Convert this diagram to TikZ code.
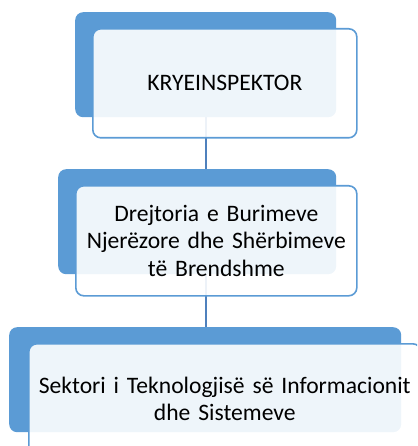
\documentclass[tikz,border=0pt]{standalone}
\usepackage{fontspec}
\setmainfont{Carlito}
\definecolor{backblue}{HTML}{5B9BD5}
\definecolor{lineblue}{HTML}{4F81BD}
\begin{document}
\begin{tikzpicture}[x=1pt,y=-1pt,
  backbox/.style={rectangle,rounded corners=8pt,fill=backblue,draw=none,inner sep=0pt,anchor=north west},
  frontbox/.style={rectangle,rounded corners=8pt,fill=white,fill opacity=0.9,text opacity=1,draw=backblue,draw opacity=1,line width=1.6pt,inner sep=0pt,anchor=north west,align=center,font=\fontsize{23.6}{27.5}\selectfont},
  conn/.style={draw=lineblue,line width=2pt}]
\useasboundingbox (0,0) rectangle (417,446);
\clip (0,0) rectangle (417,446);
% back boxes
\node[backbox,minimum width=261pt,minimum height=105pt] (back1) at (75,12) {};
\node[backbox,minimum width=278pt,minimum height=105pt] (back2) at (58,169) {};
\node[backbox,minimum width=392pt,minimum height=105pt] (back3) at (9,327) {};
% connectors
\draw[conn] (back1.south) -- (back1.south |- back2.north);
\draw[conn] (back1.south |- back2.south) -- (back1.south |- back3.north);
% front boxes
\node[frontbox,minimum width=264pt,minimum height=109pt,text width=255pt] (front1) at (92,28) {KRYEINSPEKTOR};
\node[frontbox,minimum width=281pt,minimum height=110pt,text width=275pt] (front2) at (75,185) {Drejtoria e Burimeve\\Njerëzore dhe Shërbimeve\\të Brendshme};
\node[frontbox,minimum width=392pt,minimum height=110pt,text width=388pt] (front3) at (28,343) {Sektori i Teknologjisë së Informacionit\\dhe Sistemeve};
\end{tikzpicture}
\end{document}
